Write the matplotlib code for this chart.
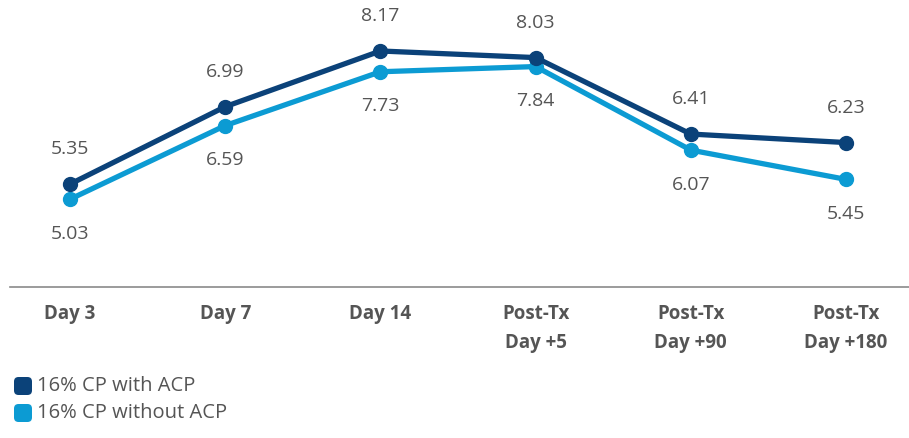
import matplotlib
matplotlib.use("Agg")
import matplotlib.pyplot as plt
from matplotlib.patches import FancyBboxPatch

categories = ["Day 3", "Day 7", "Day 14", "Post-Tx\nDay +5", "Post-Tx\nDay +90", "Post-Tx\nDay +180"]
with_acp = [5.35, 6.99, 8.17, 8.03, 6.41, 6.23]
without_acp = [5.03, 6.59, 7.73, 7.84, 6.07, 5.45]
series_names = ["16% CP with ACP", "16% CP without ACP"]
colors = ["#0b4279", "#0c9bd3"]

plt.rcParams['font.family'] = ['Open Sans', 'DejaVu Sans']
text_color = "#555555"

fig = plt.figure(figsize=(9.09, 4.38), dpi=100)
ax = fig.add_axes([10/909, (438-287)/438, 899/909, 287/438])

x = list(range(len(categories)))
for vals, c, name in zip([with_acp, without_acp][::-1], colors[::-1], series_names[::-1]):
    ax.plot(x, vals, color=c, lw=3.8, marker='o', ms=10, zorder=3, solid_capstyle='round')

for i, v in enumerate(with_acp):
    ax.annotate(f"{v:.2f}", (i, v), xytext=(0, 25), textcoords='offset points',
                ha='center', va='center', fontsize=14, color=text_color)
for i, v in enumerate(without_acp):
    ax.annotate(f"{v:.2f}", (i, v), xytext=(0, -25), textcoords='offset points',
                ha='center', va='center', fontsize=14, color=text_color)

ax.set_xlim(-0.387, 5.406)
ax.set_ylim(3.17, 9.25)
ax.set_xticks(x)
ax.set_xticklabels(categories, fontsize=13.5, fontweight='bold', color=text_color, linespacing=1.65)
ax.tick_params(axis='x', length=0, pad=12)
ax.set_yticks([])
for s in ['top', 'right', 'left']:
    ax.spines[s].set_visible(False)
ax.spines['bottom'].set_color('#8a8a8a')
ax.spines['bottom'].set_linewidth(1.2)

# legend
for j, (name, c) in enumerate(zip(series_names, colors)):
    yc = 438 - (386 + j*27)
    p = FancyBboxPatch((14/909, (yc-9)/438), 18/909, 18/438,
                       boxstyle="round,pad=0,rounding_size=0.005",
                       transform=fig.transFigure, facecolor=c, edgecolor='none',
                       mutation_aspect=909/438)
    fig.patches.append(p)
    fig.text(37/909, yc/438, name, fontsize=14.5, color=text_color, va='center', ha='left')

fig.savefig("out.png", dpi=100)
